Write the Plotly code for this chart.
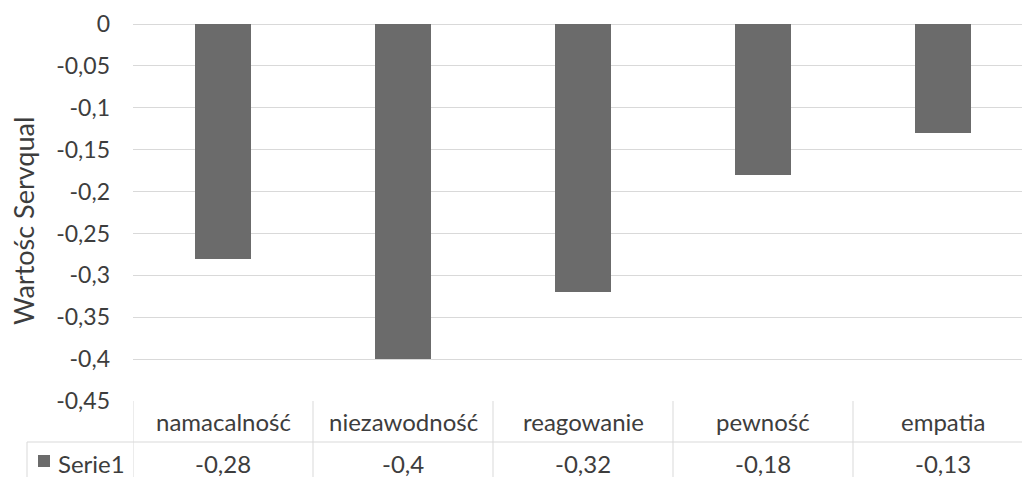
import plotly.graph_objects as go

# Servqual gap scores per dimension
categories = ["namacalność", "niezawodność", "reagowanie", "pewność", "empatia"]
values = [-0.28, -0.4, -0.32, -0.18, -0.13]
series_name = "Serie1"
y_title = "Wartośc Servqual"
tick_vals = [0, -0.05, -0.1, -0.15, -0.2, -0.25, -0.3, -0.35, -0.4, -0.45]
tick_text = ["0", "-0,05", "-0,1", "-0,15", "-0,2", "-0,25", "-0,3", "-0,35", "-0,4", "-0,45"]

FONT = "Lato, Carlito, Calibri, sans-serif"
TEXT = "#3d3d3d"
GRID = "#d9d9d9"
BAR = "#6b6b6b"
FS = 24

W, H = 1022, 477
L, R, T, B = 133, 0, 24, 76
plot_w = W - L - R
plot_h = H - T - B


def py(px):
    """Pixel row below the plot area -> paper y."""
    return (H - B - px) / plot_h


def px_x(px):
    """Pixel column left of the plot area -> paper x."""
    return (px - L) / plot_w


fig = go.Figure(
    go.Bar(
        x=list(range(len(categories))),
        y=values,
        name=series_name,
        marker=dict(color=BAR, line=dict(width=0)),
        width=0.31,
        showlegend=False,
    )
)

# the data table spans a little past the right edge of the window
x_hi = len(categories) - 0.5 - 11 / 180

fig.update_layout(
    width=W,
    height=H,
    margin=dict(l=L, r=R, t=T, b=B, pad=0),
    paper_bgcolor="white",
    plot_bgcolor="white",
    font=dict(family=FONT, size=FS, color=TEXT),
    xaxis=dict(
        range=[-0.5, x_hi],
        showticklabels=False,
        showgrid=False,
        zeroline=False,
        showline=False,
        ticks="",
    ),
    yaxis=dict(
        range=[-0.45, 0],
        tickvals=tick_vals,
        ticktext=tick_text,
        showgrid=True,
        gridcolor=GRID,
        gridwidth=1,
        zeroline=True,
        zerolinecolor=GRID,
        zerolinewidth=1,
        showline=False,
        ticks="",
        ticklabelstandoff=22,
        tickfont=dict(family=FONT, size=23, color=TEXT),
    ),
    bargap=0,
)

# axis title
fig.add_annotation(
    text=y_title, xref="paper", yref="paper", x=px_x(23), y=py(221),
    textangle=-90, showarrow=False, xanchor="center", yanchor="middle",
    font=dict(family=FONT, size=27, color=TEXT),
)

line = dict(color=GRID, width=1)
row1_mid, row_split, row2_mid, table_bottom = py(421.5), py(442), py(463), py(495)

# data table: horizontal rule between header and value rows
fig.add_shape(type="line", xref="paper", yref="paper",
              x0=px_x(27), x1=1.0, y0=row_split, y1=row_split, line=line)
# column borders on category boundaries
for i in range(len(categories)):
    fig.add_shape(type="line", xref="x", yref="paper",
                  x0=i - 0.5, x1=i - 0.5, y0=0, y1=table_bottom, line=line)
# left border of the series row
fig.add_shape(type="line", xref="paper", yref="paper",
              x0=px_x(27), x1=px_x(27), y0=row_split, y1=table_bottom, line=line)

for i, (cat, v) in enumerate(zip(categories, values)):
    fig.add_annotation(text=cat, xref="x", yref="paper", x=i, y=row1_mid,
                       showarrow=False, xanchor="center", yanchor="middle",
                       font=dict(family=FONT, size=FS, color=TEXT))
    fig.add_annotation(text=f"{v}".replace(".", ","), xref="x", yref="paper",
                       x=i, y=row2_mid, showarrow=False,
                       xanchor="center", yanchor="middle",
                       font=dict(family=FONT, size=FS, color=TEXT))

# legend key and series name in the table
fig.add_shape(type="rect", xref="paper", yref="paper",
              x0=px_x(38), x1=px_x(50), y0=py(455), y1=py(467),
              fillcolor=BAR, line=dict(width=0))
fig.add_annotation(text=series_name, xref="paper", yref="paper",
                   x=px_x(56), y=row2_mid, showarrow=False,
                   xanchor="left", yanchor="middle",
                   font=dict(family=FONT, size=FS, color=TEXT))

fig.write_html("out.html")
